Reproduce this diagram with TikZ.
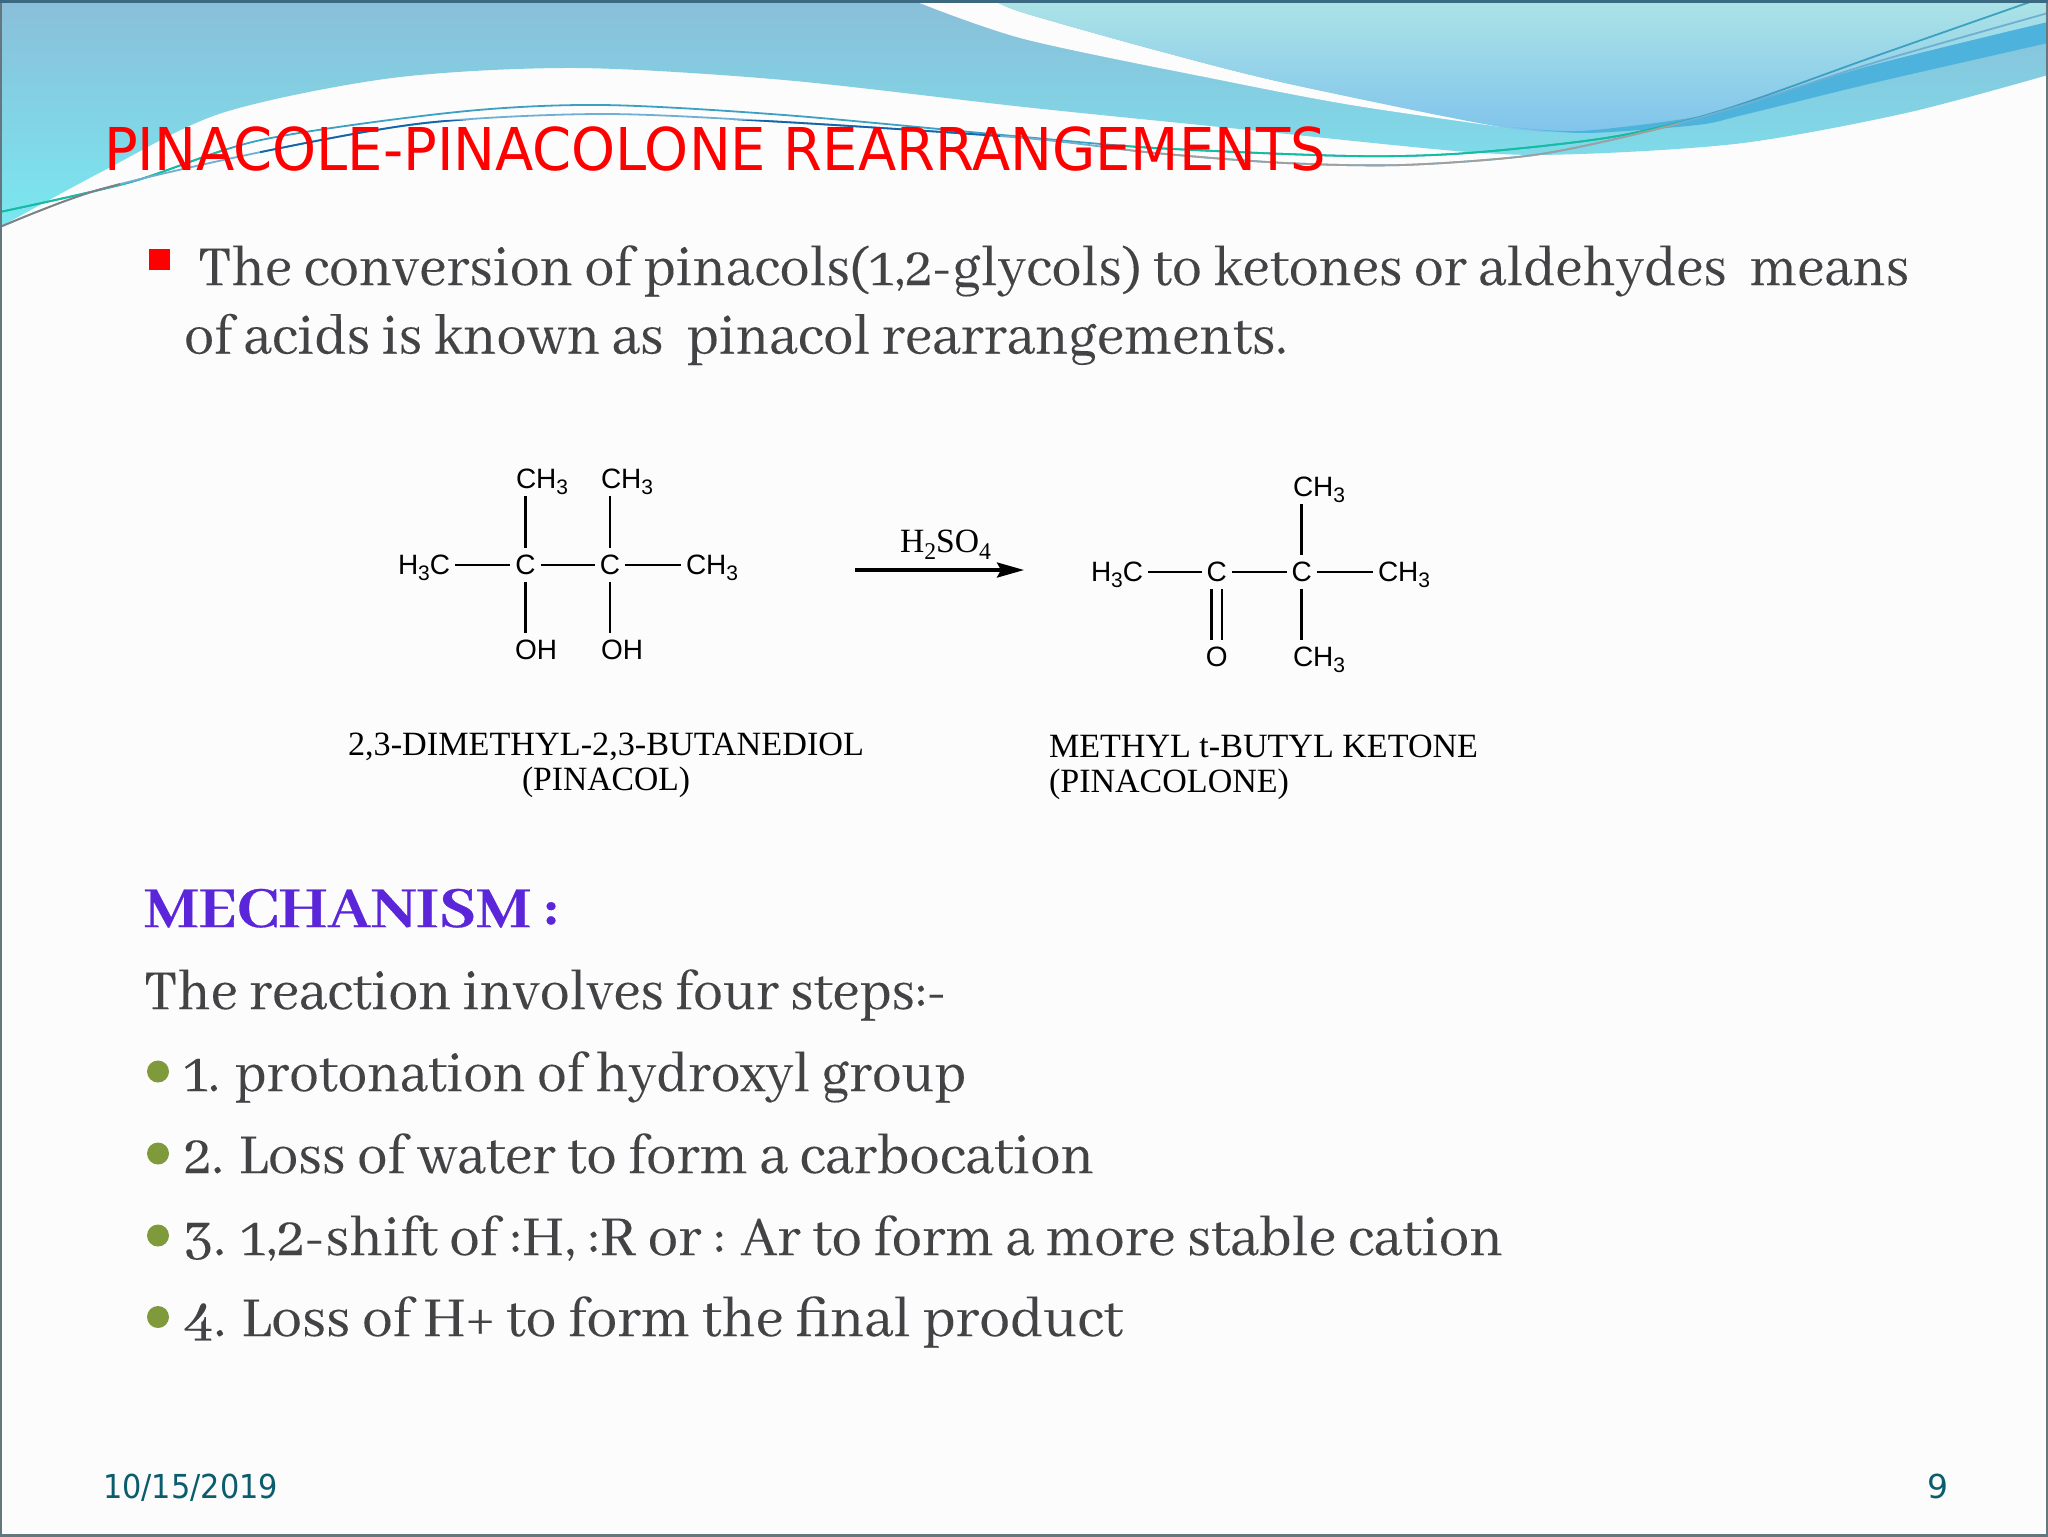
\documentclass[tikz,border=0pt]{standalone}
\usepackage{fontspec}
\usepackage{graphicx}
\usetikzlibrary{arrows.meta}
\setmainfont{Liberation Serif}
\newfontfamily\bodyfont[Numbers=OldStyle,FakeBold=0.12]{Abhaya Libre}
\newfontfamily\mechfont[FakeBold=0.5,BoldFont=Abhaya Libre Bold,BoldFeatures={FakeBold=0.5}]{Abhaya Libre}
\newfontfamily\titlefont{DejaVu Sans}
\newfontfamily\chemfont{Liberation Sans}
\newfontfamily\capfont{Liberation Serif}
\definecolor{paper}{HTML}{FCFCFD}
\definecolor{bodygrey}{HTML}{434345}
\definecolor{purp}{HTML}{5B25D9}
\definecolor{bulgreen}{HTML}{7F9A3A}
\definecolor{dateteal}{HTML}{0B5D6E}
\definecolor{edge}{HTML}{66767E}
\definecolor{edgetop}{HTML}{3C6982}
\definecolor{waveA}{RGB}{138,190,217}
\definecolor{waveB}{RGB}{122,232,240}
\definecolor{lightA}{RGB}{172,227,230}
\definecolor{lightB}{RGB}{128,196,236}
\definecolor{bandc}{RGB}{77,179,220}
\definecolor{lineteal}{RGB}{60,160,195}
\definecolor{linegreen}{RGB}{16,190,160}
\definecolor{lineblue}{RGB}{110,175,210}
\definecolor{linegrey}{RGB}{160,160,160}
\definecolor{linedark}{RGB}{20,100,170}
\newcommand{\fitw}[2]{\resizebox{#1pt}{\height}{#2}}
\newcommand{\chs}[1]{\raisebox{-0.22em}{\fontsize{10.5pt}{11pt}\selectfont #1}}
\newcommand{\caps}[1]{\raisebox{-0.22em}{\fontsize{12pt}{13pt}\selectfont #1}}
\newcommand{\linea}{plot[smooth] coordinates {(0,212) (131,182) (261,140) (457,112) (601,105) (784,115) (1024,137) (1155,148) (1351,156) (1468,153) (1612,137) (1723,110) (1873,57) (2030,2)}}
\newcommand{\lineb}{plot[smooth] coordinates {(0,227) (98,190) (261,152) (425,123) (601,114) (784,122) (1024,138) (1155,153) (1285,163) (1403,165) (1534,155) (1645,132) (1743,105) (1873,63) (2048,13)}}
\tikzset{
  txt/.style={inner sep=0pt,outer sep=0pt,anchor=base west},
  body/.style={txt,text=bodygrey,font=\bodyfont\fontsize{31pt}{33pt}\selectfont},
  ch/.style={inner xsep=2.5pt,inner ysep=4pt,outer sep=0pt,text height=9pt,text depth=0pt,font=\chemfont\fontsize{14pt}{15pt}\selectfont},
  bond/.style={line width=1.4pt,black},
  capt/.style={txt,text=black,font=\capfont\fontsize{17pt}{18pt}\selectfont},
  dot/.style={circle,fill=bulgreen,draw=none,minimum size=11pt,inner sep=0pt},
  thinl/.style={line width=0.9pt},
}
\begin{document}
\begin{tikzpicture}[x=0.5pt,y=-0.5pt]
\useasboundingbox (0,0) rectangle (2048,1536);
\clip (0,0) rectangle (2048,1536);
\fill[paper] (0,0) rectangle (2048,1536);
% waves
\shade[top color=waveA,bottom color=waveB]
  plot[smooth] coordinates {(0,227) (105,170) (222,113) (392,78) (575,68) (784,80) (1024,107) (1220,127) (1468,152) (1580,154) (1743,143) (1906,113) (2048,75)} -- (2048,0) -- (0,0) -- cycle;
\fill[paper] plot[smooth] coordinates {(912,0) (1024,39) (1220,80) (1351,105) (1501,127)} -- plot[smooth] coordinates {(1501,127) (1285,83) (1155,50) (1024,13) (993,0)} -- cycle;
\shade[top color=lightA,bottom color=lightB]
  plot[smooth] coordinates {(993,0) (1024,13) (1155,50) (1285,83) (1501,127) (1580,131) (1690,118) (1743,104) (1873,65) (2048,22)} -- (2048,0) -- cycle;
\fill[bandc] plot[smooth] coordinates {(1511,127) (1580,131) (1690,118) (1743,104) (1873,65) (2048,22)} -- plot[smooth] coordinates {(2048,43) (1873,83) (1743,115) (1697,125) (1586,133) (1511,127)} -- cycle;
% thin lines
\draw[thinl,lineteal] \linea;
\begin{scope}\clip (0,150) rectangle (240,240);\draw[thinl,linegreen] \linea;\end{scope}
\begin{scope}\clip (1120,120) rectangle (1680,180);\draw[thinl,linegreen] \linea;\end{scope}
\draw[thinl,lineblue] \lineb;
\begin{scope}\clip (0,150) rectangle (120,240);\draw[thinl,gray] \lineb;\end{scope}
\begin{scope}\clip (1120,120) rectangle (1680,180);\draw[thinl,linegrey] \lineb;\end{scope}
\begin{scope}\clip (260,120) rectangle (1000,180);\draw[thinl,linedark] \lineb;\end{scope}
% border
\draw[edge,line width=1.6pt] (0,0) rectangle (2048,1536);
\draw[edgetop,line width=3pt] (0,0) -- (2048,0);
% title
\node[txt,text=red,font=\titlefont\fontsize{29.5pt}{31pt}\selectfont] (title) at (104,170) {\fitw{611}{PINACOLE-PINACOLONE REARRANGEMENTS}};
% intro
\node[rectangle,fill=red,minimum size=10.5pt,inner sep=0pt] (sq) at (159.5,259.5) {};
\node[body] (l1) at (198,285) {\fitw{855.5}{The conversion of pinacols(1,2-glycols) to ketones or aldehydes\ \ means}};
\node[body] (l2) at (184,353.5) {\fitw{551.5}{of acids is known as\ \ pinacol rearrangements.}};
% pinacol
\node[ch] (c1) at (525.4,565) {C};
\node[ch] (c2) at (610,565) {C};
\node[ch,anchor=west] (t1) at (511,479) {CH\chs{3}};
\node[ch,anchor=west] (t2) at (596,479) {CH\chs{3}};
\node[ch,anchor=west] (me1) at (393,565) {H\chs{3}C};
\node[ch,anchor=west] (me2) at (681,565) {CH\chs{3}};
\node[ch,anchor=west] (oh1) at (510,650) {OH};
\node[ch,anchor=west] (oh2) at (596,650) {OH};
\draw[bond] (c1.north) -- (c1.north |- t1.south);
\draw[bond] (c2.north) -- (c2.north |- t2.south);
\draw[bond] (c1.south) -- (c1.south |- oh1.north);
\draw[bond] (c2.south) -- (c2.south |- oh2.north);
\draw[bond] (me1.east) -- (c1.west);
\draw[bond] (c1.east) -- (c2.west);
\draw[bond] (c2.east) -- (me2.west);
% arrow
\coordinate (a1) at (855,570);
\coordinate (a2) at (1024,570);
\draw[line width=1.7pt,-{Stealth[length=13.5pt,width=7.5pt,inset=2pt]}] (a1) -- (a2);
\node[capt] (acid) at (900,552) {\fitw{45.5}{H\caps{2}SO\caps{4}}};
% pinacolone
\node[ch] (c3) at (1216.7,572) {C};
\node[ch] (c4) at (1301.7,572) {C};
\node[ch,anchor=west] (t3) at (1288,487) {CH\chs{3}};
\node[ch,anchor=west] (b3) at (1288,657) {CH\chs{3}};
\node[ch] (ox) at (1216.7,657) {O};
\node[ch,anchor=west] (me3) at (1086,572) {H\chs{3}C};
\node[ch,anchor=west] (me4) at (1373,572) {CH\chs{3}};
\draw[bond] (c4.north) -- (c4.north |- t3.south);
\draw[bond] (c4.south) -- (c4.south |- b3.north);
\draw[bond] (me3.east) -- (c3.west);
\draw[bond] (c3.east) -- (c4.west);
\draw[bond] (c4.east) -- (me4.west);
\draw[bond] ([xshift=-2.6pt]c3.south) -- ([xshift=-2.6pt]ox.north);
\draw[bond] ([xshift=2.6pt]c3.south) -- ([xshift=2.6pt]ox.north);
% captions
\node[capt] (cap1) at (348,755) {\fitw{258}{2,3-DIMETHYL-2,3-BUTANEDIOL}};
\node[capt] (cap2) at (522,790) {\fitw{84}{(PINACOL)}};
\node[capt] (cap3) at (1049,757) {\fitw{214.5}{METHYL t-BUTYL KETONE}};
\node[capt] (cap4) at (1049,792) {\fitw{120}{(PINACOLONE)}};
% mechanism
\node[txt,text=purp,font=\mechfont\bfseries\fontsize{32pt}{34pt}\selectfont] (mech) at (144,927) {\fitw{207}{MECHANISM :}};
\node[body] (m0) at (144,1009) {\fitw{401.5}{The reaction involves four steps:-}};
\node[dot] (d1) at (158,1071.5) {};
\node[dot] (d2) at (158,1153.5) {};
\node[dot] (d3) at (158,1235.5) {};
\node[dot] (d4) at (158,1317) {};
\node[body] (m1) at (184,1091) {\fitw{391}{1. protonation of hydroxyl group}};
\node[body] (m2) at (184,1173) {\fitw{455}{2. Loss of water to form a carbocation}};
\node[body] (m3) at (184,1255) {\fitw{659.5}{3. 1,2-shift of :H, :R or : Ar to form a more stable cation}};
\node[body] (m4) at (184,1336) {\fitw{469.5}{4. Loss of H+ to form the final product}};
% footer
\node[txt,text=dateteal,font=\titlefont\fontsize{16.5pt}{18pt}\selectfont] (date) at (103,1498) {\fitw{87.5}{10/15/2019}};
\node[txt,text=dateteal,font=\titlefont\fontsize{16.5pt}{18pt}\selectfont] (num) at (1927,1498) {9};
\end{tikzpicture}
\end{document}
